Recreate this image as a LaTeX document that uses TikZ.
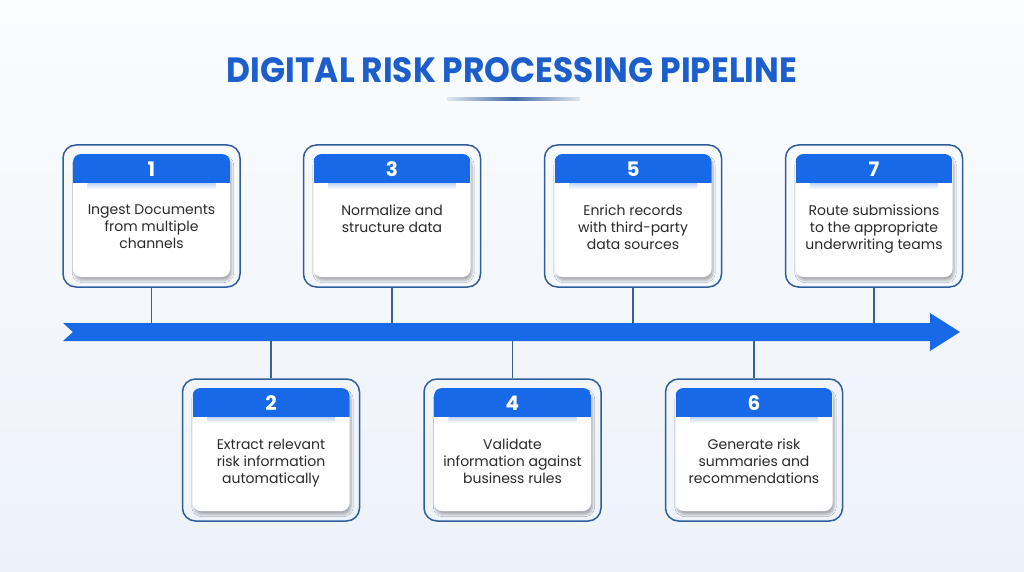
\documentclass[tikz,border=0pt]{standalone}
\usepackage{fontspec}
\usepackage{graphicx}
\setmainfont{Poppins}
\usetikzlibrary{shadows.blur}
\definecolor{bgtop}{HTML}{FAFCFE}
\definecolor{bgbot}{HTML}{EDF2F9}
\definecolor{mainblue}{HTML}{1769E8}
\definecolor{titleblue}{HTML}{1C5FCC}
\definecolor{framec}{HTML}{2F5C9E}
\definecolor{connc}{HTML}{3A5F96}
\definecolor{txtc}{HTML}{2A2A2A}
\tikzset{
 frame/.style={draw=framec, line width=1.5pt, rounded corners=13pt, minimum width=177pt, minimum height=142pt, inner sep=0},
 card/.style={fill=white, rounded corners=8pt, minimum width=157pt, minimum height=123pt, inner sep=0,
   blur shadow={shadow xshift=1.5pt, shadow yshift=-3.5pt, shadow opacity=30, shadow blur steps=8}},
 numlbl/.style={text=white, font=\fontsize{20}{20}\selectfont\bfseries, inner sep=0},
 desc/.style={text=txtc, font=\fontsize{14}{17}\selectfont, align=center, inner sep=0, anchor=north},
 conn/.style={draw=connc, line width=1.5pt},
 flow/.style={fill=mainblue},
}
\newcommand\pstage[5]{%
 \node[frame] (o#1) at (#2,#3+71) {};
 \node[card] (k#1) at (#2,#3+70.5) {};
 \shade[top color=mainblue!28, bottom color=white] (#2-64,#3+38) rectangle (#2+64,#3+44);
 \begin{scope}
  \clip[rounded corners=8pt] (#2-78.5,#3+9) rectangle (#2+78.5,#3+132);
  \fill[mainblue] (#2-78.5,#3+9) rectangle (#2+78.5,#3+38);
 \end{scope}
 \node[numlbl] (n#1) at (#2,#3+24) {#4};
 \node[desc] (d#1) at (#2,#3+60) {#5};
}
\begin{document}
\begin{tikzpicture}[x=1pt,y=-1pt]
\useasboundingbox (0,0) rectangle (1024,572);
\shade[top color=bgtop, bottom color=bgbot] (0,0) rectangle (1024,572);
\node[text=titleblue, inner sep=0] (title) at (512,70.5) {\resizebox{570pt}{25pt}{\bfseries DIGITAL RISK PROCESSING PIPELINE}};
\shade[left color=framec!15, right color=framec!15, middle color=framec!90] (447,98) rectangle (580,100.5);
\pstage{1}{151.5}{145}{1}{Ingest Documents\\from multiple\\channels}
\pstage{3}{392}{145}{3}{Normalize and\\structure data}
\pstage{5}{633}{145}{5}{Enrich records\\with third-party\\data sources}
\pstage{7}{874}{145}{7}{Route submissions\\to the appropriate\\underwriting teams}
\pstage{2}{271}{379}{2}{Extract relevant\\risk information\\automatically}
\pstage{4}{512.5}{379}{4}{Validate\\information against\\business rules}
\pstage{6}{754}{379}{6}{Generate risk\\summaries and\\recommendations}
\coordinate (a1) at (151.5,325);
\coordinate (a3) at (392,325);
\coordinate (a5) at (633,325);
\coordinate (a7) at (874,325);
\coordinate (a2) at (271,339);
\coordinate (a4) at (512.5,339);
\coordinate (a6) at (754,339);
\foreach \i in {1,3,5,7} {\draw[conn] (o\i.south) -- (a\i);}
\foreach \i in {2,4,6} {\draw[conn] (a\i) -- (o\i.north);}
\fill[flow] (63,323) -- (930,323) -- (930,313) -- (960,332) -- (930,351) -- (930,341) -- (63,341) -- (73,332) -- cycle;
\end{tikzpicture}
\end{document}
